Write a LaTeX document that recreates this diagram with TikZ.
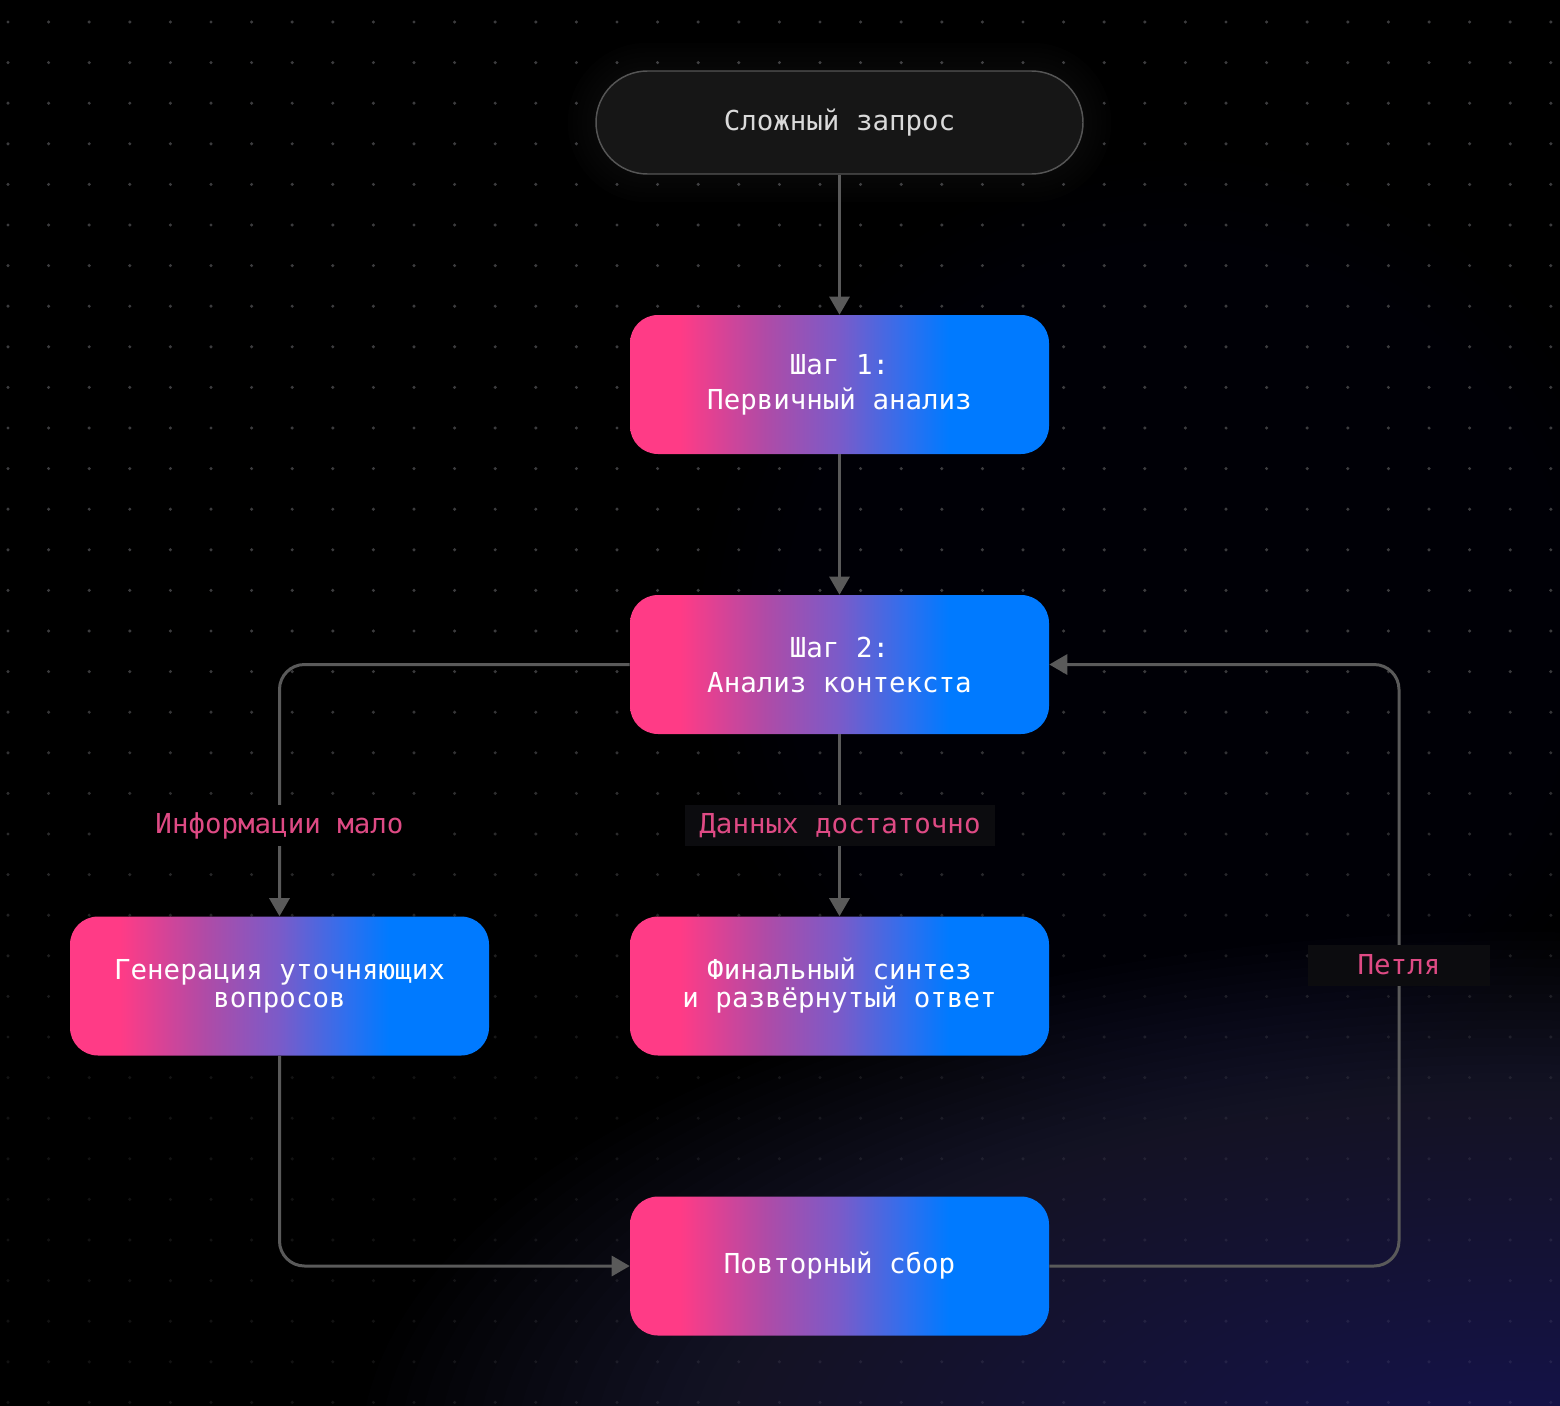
\documentclass[tikz,border=0pt]{standalone}
\usepackage{fontspec}
\newfontfamily\monof{DejaVu Sans Mono}
\usetikzlibrary{arrows.meta}
\definecolor{gpink}{HTML}{FF3B86}
\definecolor{gpurp}{HTML}{B04BA6}
\definecolor{gmid}{HTML}{7A5BC9}
\definecolor{gblue2}{HTML}{2F6FEE}
\definecolor{gblue}{HTML}{007AFF}
\definecolor{linec}{HTML}{5A5A5A}
\definecolor{labc}{HTML}{DE4A84}
\definecolor{labbg}{HTML}{0C0C0F}
\definecolor{dotc}{HTML}{2E2E30}
\definecolor{topfill}{HTML}{161616}
\definecolor{topline}{HTML}{555555}
\definecolor{toptext}{HTML}{DADADA}
\definecolor{glowcol}{HTML}{3E3C74}
\definecolor{hazecol}{HTML}{1C1A30}
\pgfdeclarehorizontalshading{nodegrad}{100bp}{color(0bp)=(gpink); color(31bp)=(gpink); color(41bp)=(gpurp); color(50bp)=(gmid); color(58bp)=(gblue2); color(63bp)=(gblue); color(100bp)=(gblue)}
\tikzset{
  gradbox/.style={rectangle, rounded corners=21pt, minimum width=314.25pt, minimum height=104.25pt,
    shade, shading=nodegrad, text=white, align=center, inner sep=0pt},
  steptext/.style={font=\monof\fontsize{20.6pt}{26.25pt}\selectfont},
  tighttext/.style={font=\monof\fontsize{20.6pt}{21pt}\selectfont},
  pill/.style={rectangle, rounded corners=38.6pt, minimum width=365.25pt, minimum height=77.25pt,
    fill=topfill, draw=topline, line width=1.1pt, text=toptext, inner sep=0pt,
    font=\monof\fontsize{20.6pt}{26pt}\selectfont},
  conn/.style={draw=linec, line width=2.25pt, rounded corners=18.75pt},
  arr/.style={-{Triangle[length=13.5pt,width=15pt]}},
  lab/.style={fill=labbg, text=labc, inner sep=0pt, minimum height=30.75pt,
    font=\monof\fontsize{20.6pt}{26pt}\selectfont},
}
\begin{document}
\begin{tikzpicture}[x=0.75pt, y=-0.75pt]
\useasboundingbox (0,0) rectangle (1560,1406);
\fill[black] (0,0) rectangle (1560,1406);
\begin{scope}
\clip (0,0) rectangle (1560,1406);
\foreach \k in {1,...,30} {
  \fill[hazecol, opacity=0.025] (1180,640) circle[radius={12pt*\k}];
}
\foreach \k in {1,...,60} {
  \fill[glowcol, opacity=0.0225] (1520,1460) ellipse[x radius={14.5pt*\k}, y radius={6.6pt*\k}];
}
\end{scope}
% dot grid: fading toward the bottom, faint white over the glow
\foreach \i in {0,...,38} {
  \foreach \j in {0,...,34} {
    \pgfmathsetmacro{\yy}{22+40.6*\j}
    \pgfmathsetmacro{\op}{max(0,min(1,1-(\yy-650)/450))}
    \fill[dotc, opacity=\op] ({8+40.6*\i},\yy) circle[radius=1.3pt];
    \fill[white, opacity=0.07] ({8+40.6*\i},\yy) circle[radius=1.3pt];
  }
}
% soft halo round the top node
\foreach \k in {1,...,6} {
  \fill[white, opacity=0.009, rounded corners={38.6pt+\k*3.5pt}]
    ({596-\k*4.7},{71-\k*4.7}) rectangle ({1083+\k*4.7},{174+\k*4.7});
}
% nodes
\node[pill] (q) at (839.5,122.5) {Сложный запрос};
\node[gradbox, steptext] (s1) at (839.5,384.5) {Шаг 1:\\Первичный анализ};
\node[gradbox, steptext] (s2) at (839.5,664.5) {Шаг 2:\\Анализ контекста};
\node[gradbox, tighttext] (gen) at (279.5,986) {Генерация уточняющих\\вопросов};
\node[gradbox, tighttext] (fin) at (839.5,986) {Финальный синтез\\и развёрнутый ответ};
\node[gradbox, steptext] (rep) at (839.5,1266) {Повторный сбор};
% connectors
\coordinate (lp) at (1399,664.5);
\draw[conn, arr] (q.south) -- (s1.north);
\draw[conn, arr] (s1.south) -- (s2.north);
\draw[conn, arr] (s2.west) -| (gen.north);
\draw[conn, arr] (s2.south) -- (fin.north);
\draw[conn, arr] (gen.south) |- (rep.west);
\draw[conn, arr] (rep.east) -| (lp) -- (s2.east);
% labels
\node[lab, minimum width=232.5pt, fill=black] (l1) at (279.5,825.5) {Информации мало};
\node[lab, minimum width=232.5pt] (l2) at (840,825.5) {Данных достаточно};
\node[lab, minimum width=136.5pt] (l3) at (1399,965) {Петля};
\end{tikzpicture}
\end{document}
